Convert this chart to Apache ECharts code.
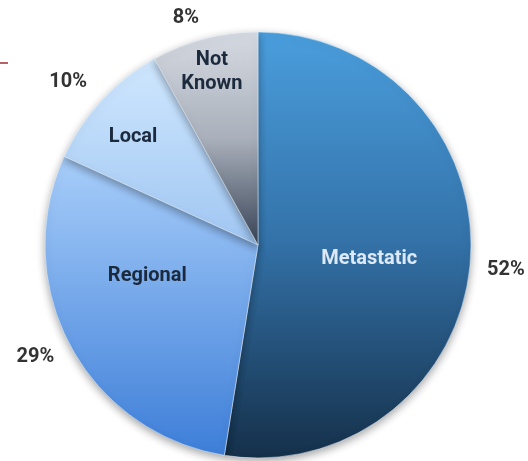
<!DOCTYPE html>
<html>
<head>
<meta charset="utf-8">
<script src="https://cdn.jsdelivr.net/npm/echarts@6/dist/echarts.min.js"></script>
<style>
  html, body { margin: 0; padding: 0; background: #ffffff; }
  #chart { width: 528px; height: 461px; }
</style>
</head>
<body>
<div id="chart"></div>
<script>
// Stage at diagnosis, share of cases (%)
const categories = ['Metastatic', 'Regional', 'Local', 'Not\nKnown'];
const shares = [52, 29, 10, 8];

const CENTER = [258, 245];
const R = 213;

// label placement: [radius fraction, angle nudge in degrees]
const innerPlace = [[0.526, 2.7], [0.54, 12.5], [0.775, -1.9], [0.84, -0.4]];
const outerPlace = [[1.17, 1.3], [1.17, 1.5], [1.175, -2.1], [1.118, -3.1]];

const total = shares.reduce((a, b) => a + b, 0);
function midAngle(i) {
  let before = 0;
  for (let k = 0; k < i; k++) before += shares[k];
  return (before + shares[i] / 2) / total * 360;
}
function placeAt(i, place) {
  const a = (midAngle(i) + place[i][1]) * Math.PI / 180;
  const r = R * place[i][0];
  return { x: CENTER[0] + r * Math.sin(a), y: CENTER[1] - r * Math.cos(a) };
}

const fills = [
  { type: 'linear', x: 0, y: 31, x2: 0, y2: 458, global: true,
    colorStops: [{ offset: 0, color: '#4a9edd' }, { offset: 0.48, color: '#3473aa' }, { offset: 1, color: '#15304a' }] },
  { type: 'linear', x: 0, y: 0, x2: 0, y2: 1,
    colorStops: [{ offset: 0, color: '#a8cefa' }, { offset: 1, color: '#3d7ed8' }] },
  { type: 'linear', x: 0, y: 0, x2: 0, y2: 1,
    colorStops: [{ offset: 0, color: '#cfe7fe' }, { offset: 1, color: '#a0c6f2' }] },
  { type: 'linear', x: 0, y: 0, x2: 0, y2: 1,
    colorStops: [{ offset: 0, color: '#d6dae2' }, { offset: 0.5, color: '#a9b0bb' }, { offset: 1, color: '#374355' }] }
];
const nameColors = ['#dde9f6', '#1c2a3e', '#1c2a3e', '#1c2a3e'];

const chart = echarts.init(document.getElementById('chart'), null, { renderer: 'canvas' });
chart.setOption({
  backgroundColor: '#ffffff',
  animation: false,
  graphic: [{
    type: 'line',
    shape: { x1: 0, y1: 63, x2: 8, y2: 63 },
    style: { stroke: '#b46464', lineWidth: 2 }
  }],
  series: [
    {
      type: 'pie',
      center: CENTER,
      radius: [0, R],
      startAngle: 90,
      clockwise: true,
      silent: true,
      data: categories.map((name, i) => ({
        name: name,
        value: shares[i],
        itemStyle: { color: fills[i] },
        label: { color: nameColors[i] }
      })),
      itemStyle: {
        borderColor: 'rgba(235,245,255,0.5)',
        borderWidth: 1,
        shadowBlur: 8,
        shadowOffsetY: 3,
        shadowColor: 'rgba(0,0,0,0.35)'
      },
      label: {
        show: true,
        position: 'inside',
        formatter: '{b}',
        fontFamily: 'Roboto',
        fontWeight: 'bold',
        fontSize: 20,
        lineHeight: 24
      },
      labelLine: { show: false },
      labelLayout: (p) => placeAt(p.dataIndex, innerPlace),
      emphasis: { disabled: true }
    },
    {
      type: 'pie',
      center: CENTER,
      radius: [0, R],
      startAngle: 90,
      clockwise: true,
      silent: true,
      z: 3,
      data: categories.map((name, i) => ({ name: name, value: shares[i] })),
      itemStyle: { color: 'rgba(0,0,0,0)', borderWidth: 0 },
      label: {
        show: true,
        position: 'inside',
        formatter: (p) => p.value + '%',
        color: '#333333',
        fontFamily: 'Roboto',
        fontWeight: 'bold',
        fontSize: 20
      },
      labelLine: { show: false },
      labelLayout: (p) => placeAt(p.dataIndex, outerPlace),
      emphasis: { disabled: true }
    }
  ]
});
</script>
</body>
</html>
